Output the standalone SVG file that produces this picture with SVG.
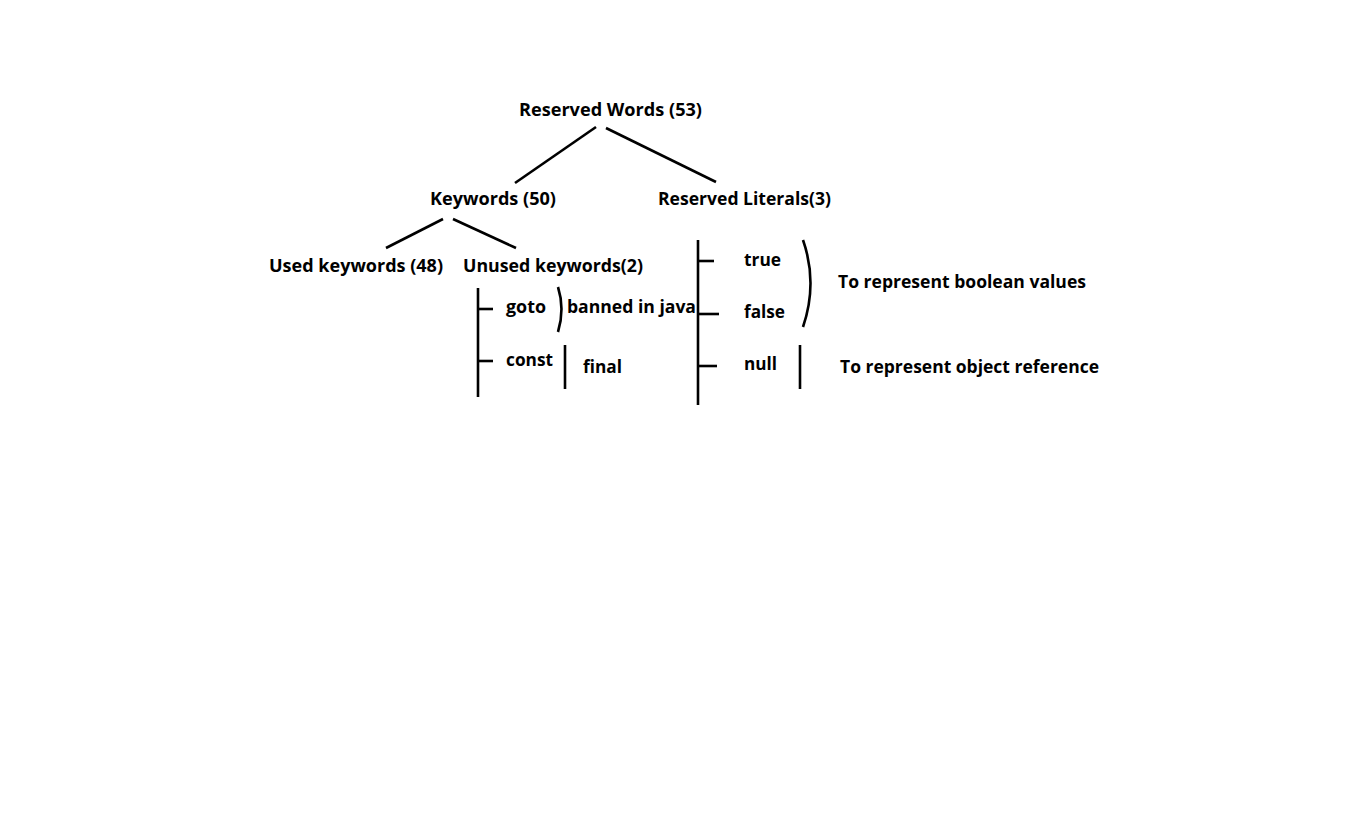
<svg xmlns="http://www.w3.org/2000/svg" width="1358" height="831" viewBox="0 0 1358 831">
<style>
text{font-family:"Open Sans","Noto Sans","Liberation Sans",sans-serif;font-weight:bold;font-size:18px;fill:#000}
.ln{stroke:#000;stroke-width:2.6;fill:none;stroke-linecap:butt}
</style>
<rect width="1358" height="831" fill="#fff"/>
<g id="n-reserved-words"><text x="519" y="116" textLength="183" lengthAdjust="spacingAndGlyphs">Reserved Words (53)</text></g>
<g id="n-keywords"><text x="430" y="205" textLength="126" lengthAdjust="spacingAndGlyphs">Keywords (50)</text></g>
<g id="n-reserved-literals"><text x="658" y="205" textLength="173" lengthAdjust="spacingAndGlyphs">Reserved Literals(3)</text></g>
<g id="n-used"><text x="269" y="272" textLength="174" lengthAdjust="spacingAndGlyphs">Used keywords (48)</text></g>
<g id="n-unused"><text x="463" y="272" textLength="180" lengthAdjust="spacingAndGlyphs">Unused keywords(2)</text></g>
<g id="n-goto"><text x="506" y="313" textLength="40" lengthAdjust="spacingAndGlyphs">goto</text></g>
<g id="n-banned"><text x="567" y="313" textLength="129" lengthAdjust="spacingAndGlyphs">banned in java</text></g>
<g id="n-const"><text x="506" y="366" textLength="47" lengthAdjust="spacingAndGlyphs">const</text></g>
<g id="n-final"><text x="583" y="373" textLength="39" lengthAdjust="spacingAndGlyphs">final</text></g>
<g id="n-true"><text x="744" y="266" textLength="37" lengthAdjust="spacingAndGlyphs">true</text></g>
<g id="n-false"><text x="744" y="318" textLength="41" lengthAdjust="spacingAndGlyphs">false</text></g>
<g id="n-null"><text x="744" y="370" textLength="33" lengthAdjust="spacingAndGlyphs">null</text></g>
<g id="n-boolean"><text x="838" y="288" textLength="248" lengthAdjust="spacingAndGlyphs">To represent boolean values</text></g>
<g id="n-object"><text x="840" y="373" textLength="259" lengthAdjust="spacingAndGlyphs">To represent object reference</text></g>
<g id="connectors">
<line class="ln" x1="596" y1="127" x2="515" y2="183"/>
<line class="ln" x1="606" y1="128" x2="716" y2="182"/>
<line class="ln" x1="443" y1="219" x2="386" y2="248"/>
<line class="ln" x1="453" y1="219" x2="516" y2="248"/>
<line class="ln" x1="478" y1="288" x2="478" y2="397"/>
<line class="ln" x1="478" y1="309" x2="493" y2="309"/>
<line class="ln" x1="478" y1="361" x2="493" y2="361"/>
<path class="ln" d="M558 287 Q565 309 558 332"/>
<line class="ln" x1="565" y1="345" x2="565" y2="389"/>
<line class="ln" x1="698" y1="240" x2="698" y2="405"/>
<line class="ln" x1="698" y1="261" x2="714" y2="261"/>
<line class="ln" x1="698" y1="314" x2="719" y2="314"/>
<line class="ln" x1="698" y1="366" x2="717" y2="366"/>
<path class="ln" d="M803 240 Q818 283 803 327"/>
<line class="ln" x1="800" y1="345" x2="800" y2="389"/>
</g>
</svg>
